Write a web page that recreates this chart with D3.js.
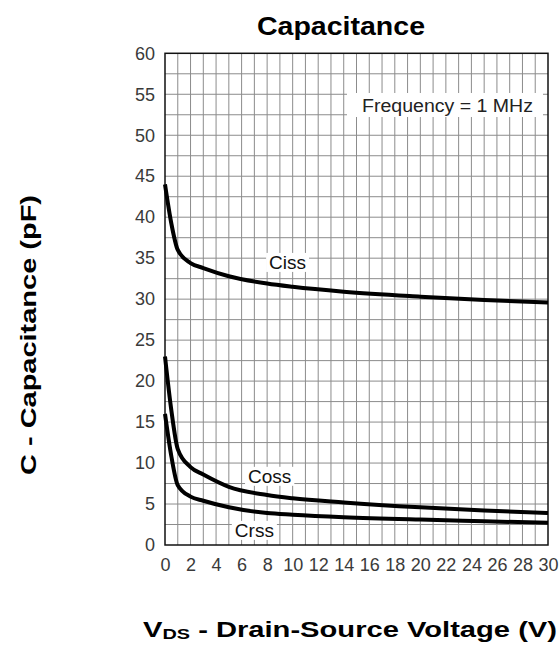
<!DOCTYPE html>
<html>
<head>
<meta charset="utf-8">
<script src="https://cdn.jsdelivr.net/npm/d3@7/dist/d3.min.js"></script>
<style>
  body { margin: 0; background: #fff; }
  text { font-family: "Liberation Sans", Arial, sans-serif; }
</style>
</head>
<body>
<svg id="chart" width="560" height="664"></svg>
<script>
// values
var vds  = [0, 0.5, 1, 2, 3, 5, 8, 10, 14, 20, 25, 30];
var ciss = [44, 39.2, 36, 34.4, 33.8, 32.8, 31.9, 31.5, 30.9, 30.3, 29.9, 29.6];
var coss = [23, 16.4, 11.7, 9.5, 8.6, 7.1, 6.1, 5.7, 5.2, 4.6, 4.2, 3.9];
var crss = [16, 10.8, 7.3, 5.9, 5.4, 4.6, 3.9, 3.7, 3.4, 3.1, 2.9, 2.7];
var xTicks = d3.range(0, 31, 2);
var yTicks = d3.range(0, 61, 5);

var svg = d3.select('#chart');
var m = {left: 165, top: 53.3, right: 548, bottom: 545};

var x = d3.scaleLinear().domain([0, 30]).range([m.left, m.right]);
var y = d3.scaleLinear().domain([0, 60]).range([m.bottom, m.top]);

// grid: 1 V by 2.5 pF
var grid = svg.append('g').attr('stroke', '#8c8c8c').attr('stroke-width', 1);
grid.selectAll('line.v').data(d3.range(1, 30)).enter().append('line')
  .attr('x1', function(d){ return x(d); }).attr('x2', function(d){ return x(d); })
  .attr('y1', m.top).attr('y2', m.bottom);
grid.selectAll('line.h').data(d3.range(2.5, 60, 2.5)).enter().append('line')
  .attr('y1', function(d){ return y(d); }).attr('y2', function(d){ return y(d); })
  .attr('x1', m.left).attr('x2', m.right);

svg.append('rect')
  .attr('x', m.left).attr('y', m.top)
  .attr('width', m.right - m.left).attr('height', m.bottom - m.top)
  .attr('fill', 'none').attr('stroke', '#111').attr('stroke-width', 1.5);

// axes, labels only
var xAxis = svg.append('g').attr('transform', 'translate(0,' + m.bottom + ')')
  .call(d3.axisBottom(x).tickValues(xTicks).tickSize(0).tickPadding(13));
var yAxis = svg.append('g').attr('transform', 'translate(' + m.left + ',0)')
  .call(d3.axisLeft(y).tickValues(yTicks).tickSize(0).tickPadding(10));
[xAxis, yAxis].forEach(function(a){
  a.select('.domain').remove();
  a.selectAll('text').attr('font-size', 18).attr('fill', '#3a3a3a')
    .attr('font-family', '"Liberation Sans", Arial, sans-serif');
});

// curves
var line = d3.line()
  .x(function(d){ return x(d[0]); })
  .y(function(d){ return y(d[1]); })
  .curve(d3.curveMonotoneX);
[ciss, coss, crss].forEach(function(s){
  svg.append('path')
    .datum(d3.zip(vds, s))
    .attr('d', line)
    .attr('fill', 'none').attr('stroke', '#000').attr('stroke-width', 4)
    .attr('stroke-linejoin', 'round');
});

// curve names on white patches
var curveLabels = [
  {name: 'Ciss', at: 9.6, v: 34.5},
  {name: 'Coss', at: 8.2, v: 8.4},
  {name: 'Crss', at: 7.0, v: 1.8}
];
curveLabels.forEach(function(c){
  var g = svg.append('g').attr('transform', 'translate(' + x(c.at) + ',' + y(c.v) + ')');
  var t = g.append('text').text(c.name)
    .attr('text-anchor', 'middle').attr('dy', '0.35em')
    .attr('font-size', 19).attr('fill', '#111');
  var b = t.node().getBBox();
  g.insert('rect', 'text')
    .attr('x', b.x - 3).attr('y', b.y + 1)
    .attr('width', b.width + 6).attr('height', b.height - 2)
    .attr('fill', '#fff');
});

// frequency note
svg.append('rect').attr('x', 347).attr('y', 93).attr('width', 196).attr('height', 24).attr('fill', '#fff');
svg.append('text').text('Frequency = 1 MHz')
  .attr('x', 362).attr('y', 112)
  .attr('font-size', 18).attr('fill', '#222')
  .attr('textLength', 171).attr('lengthAdjust', 'spacingAndGlyphs');

// title and axis titles
svg.append('text').text('Capacitance')
  .attr('x', 257).attr('y', 35)
  .attr('font-size', 25).attr('font-weight', 'bold')
  .attr('textLength', 168).attr('lengthAdjust', 'spacingAndGlyphs');

var xl = svg.append('text')
  .attr('x', 143).attr('y', 637)
  .attr('font-size', 22).attr('font-weight', 'bold')
  .attr('textLength', 414).attr('lengthAdjust', 'spacingAndGlyphs');
xl.append('tspan').text('V');
xl.append('tspan').text('DS').attr('font-size', 15).attr('dy', 2);
xl.append('tspan').text(' - Drain-Source Voltage (V)').attr('dy', -2);

svg.append('text').text('C - Capacitance (pF)')
  .attr('transform', 'translate(36,335) rotate(-90)')
  .attr('text-anchor', 'middle')
  .attr('font-size', 22).attr('font-weight', 'bold')
  .attr('textLength', 280).attr('lengthAdjust', 'spacingAndGlyphs');
</script>
</body>
</html>
